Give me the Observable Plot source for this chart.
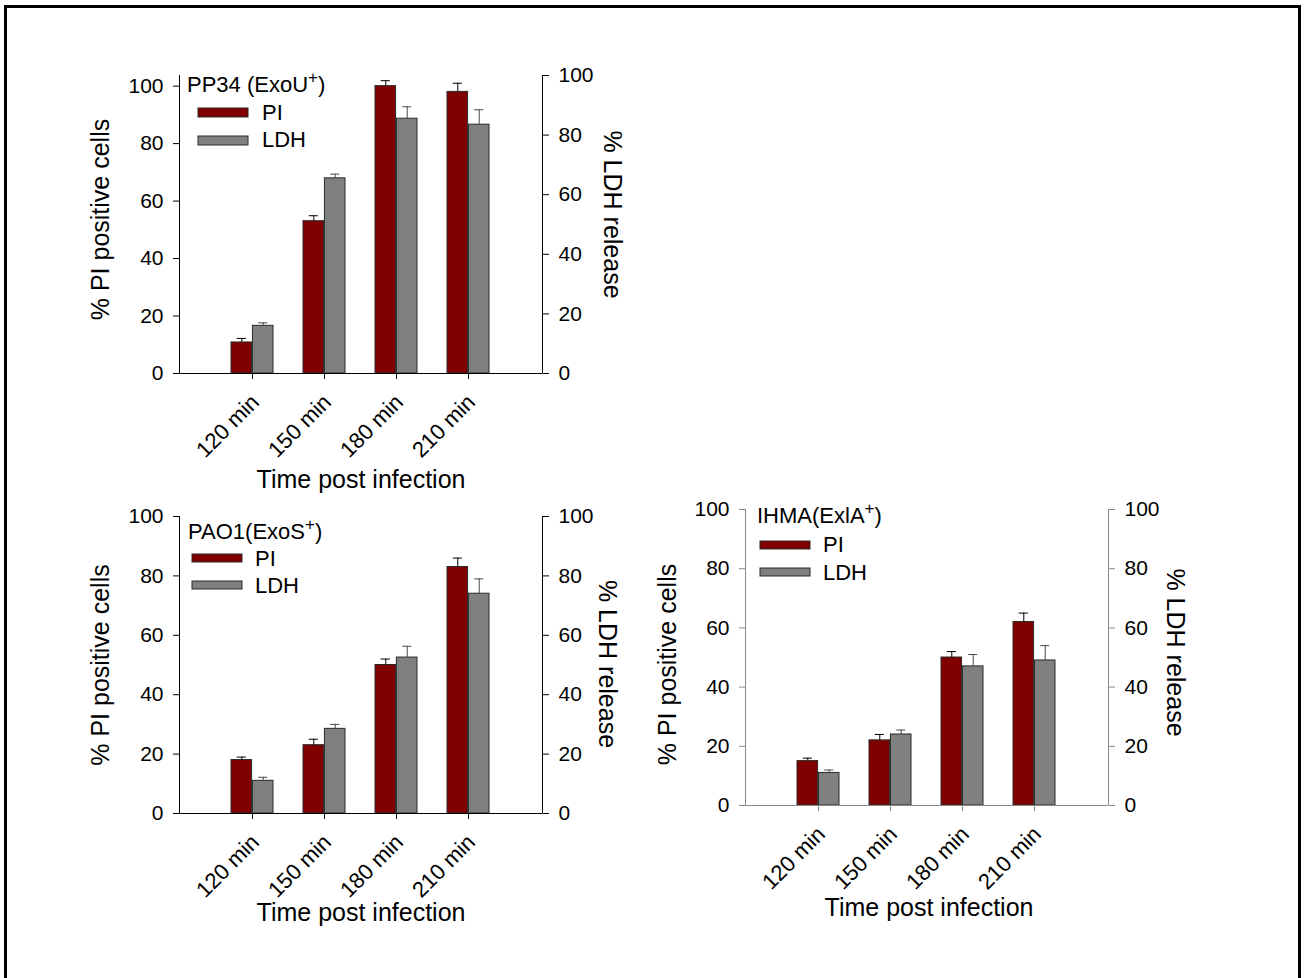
<!DOCTYPE html>
<html><head><meta charset="utf-8">
<script src="https://cdn.jsdelivr.net/npm/d3@7"></script>
<script src="https://cdn.jsdelivr.net/npm/@observablehq/plot@0.6"></script>
<style>
html,body{margin:0;padding:0;background:#fff;}
#page{position:relative;width:1304px;height:978px;overflow:hidden;font-family:"Liberation Sans",Arial,sans-serif;background:#fff;}
#border{position:absolute;left:4px;top:5px;width:1297px;height:1100px;border:3px solid #000;box-sizing:border-box;}
.panel{position:absolute;}
#overlay{position:absolute;left:0;top:0;pointer-events:none;}
</style></head><body><div id="page"><div id="border"></div></div>
<script>
// ---- data ----
const times = ["120 min", "150 min", "180 min", "210 min"];
const yTicks = [0, 20, 40, 60, 80, 100];
const seriesNames = ["PI", "LDH"];

const pp34PI = [10.8, 53, 100, 98];
const pp34PIerr = [1.4, 1.9, 1.9, 3];
const pp34LDH = [16, 65.5, 85.5, 83.5];
const pp34LDHerr = [1, 1.4, 4, 5];

const pao1PI = [18, 23, 50, 83];
const pao1PIerr = [1, 2, 2, 3];
const pao1LDH = [11, 28.5, 52.5, 74];
const pao1LDHerr = [1.2, 1.5, 3.8, 5];

const ihmaPI = [15, 22, 50, 62];
const ihmaPIerr = [1, 2, 2, 3];
const ihmaLDH = [11, 24, 47, 49];
const ihmaLDHerr = [1, 1.5, 4, 5];

const strainTitles = [["PP34 (ExoU", "+", ")"], ["PAO1(ExoS", "+", ")"], ["IHMA(ExlA", "+", ")"]];

// ---- styles ----
const piColor = "#800000", ldhColor = "#808080";
const font = "'Liberation Sans', Arial, sans-serif";
const padIn = 0.41, padOut = 0.705;

function axisLines(color) {
  return (index, scales, values, dims) => {
    const {width, height, marginLeft, marginRight, marginTop, marginBottom} = dims;
    const g = d3.create("svg:g").attr("stroke", color).attr("stroke-width", 1).attr("fill", "none");
    const xl = marginLeft + 0.5, xr = width - marginRight + 0.5, yb = height - marginBottom + 0.5;
    g.append("line").attr("x1", xl).attr("x2", xl).attr("y1", marginTop).attr("y2", yb);
    g.append("line").attr("x1", xr).attr("x2", xr).attr("y1", marginTop).attr("y2", yb);
    return g.node();
  };
}

function panel(cfg) {
  const {left, top, width, height, mL, mR, mT, mB, yMax, factor, pi, piErr, ldh, ldhErr, axisColor, t} = cfg;
  const rows = times.map((time, i) => ({
    time, pi: pi[i], piTop: pi[i] + piErr[i],
    ldh: ldh[i] * factor, ldhTop: (ldh[i] + ldhErr[i]) * factor
  }));
  const plotW = width - mL - mR;
  const step = plotW / (times.length - padIn + 2 * padOut);
  const bw = step * (1 - padIn);
  const half = bw / 2, q = bw / 4, cap = 5;
  const chart = Plot.plot({
    width, height, marginLeft: mL, marginRight: mR, marginTop: mT, marginBottom: mB,
    style: {fontFamily: font, fontSize: "21px", color: "#000", background: "transparent", overflow: "visible"},
    x: {type: "band", domain: times, paddingInner: padIn, paddingOuter: padOut, axis: null},
    y: {domain: [0, yMax], axis: null},
    marks: [
      Plot.barY(rows, {x: "time", y: "pi", fill: piColor, stroke: "#2a2a2a", strokeWidth: 1, insetRight: half}),
      Plot.barY(rows, {x: "time", y: "ldh", fill: ldhColor, stroke: "#2a2a2a", strokeWidth: 1, insetLeft: half}),
      Plot.ruleX(rows, {x: "time", y1: "pi", y2: "piTop", dx: -q, stroke: "#000", strokeWidth: 1}),
      Plot.tickY(rows, {x: "time", y: "piTop", insetLeft: q - cap, insetRight: 3 * q - cap, stroke: "#000", strokeWidth: 1}),
      Plot.ruleX(rows, {x: "time", y1: "ldh", y2: "ldhTop", dx: q, stroke: "#4a4a4a", strokeWidth: 1}),
      Plot.tickY(rows, {x: "time", y: "ldhTop", insetLeft: 3 * q - cap, insetRight: q - cap, stroke: "#4a4a4a", strokeWidth: 1}),
      Plot.ruleY([0], {stroke: axisColor}),
      axisLines(axisColor),
      Plot.axisY(yTicks, {anchor: "left", tickSize: 6, tickPadding: 10, stroke: axisColor, fill: "#000", label: null, fontSize: 21}),
      Plot.axisY(yTicks.map(v => v * factor), {anchor: "right", tickSize: 6, tickPadding: 10, stroke: axisColor, fill: "#000", label: null, fontSize: 21, tickFormat: d => String(Math.round(d / factor))}),
      Plot.axisX({anchor: "bottom", tickSize: 6, fill: "none", stroke: axisColor, label: null}),
      Plot.axisX({anchor: "bottom", tickSize: 0, tickRotate: -45, tickPadding: 25, dx: 3, fill: "#000", label: null, fontSize: 22}),
      Plot.text(["% PI positive cells"], {text: d => d, frameAnchor: "left", textAnchor: "middle", lineAnchor: "middle", rotate: -90, dx: t.lx, dy: t.ly, fontSize: 25}),
      Plot.text(["% LDH release"], {text: d => d, frameAnchor: "right", textAnchor: "middle", lineAnchor: "middle", rotate: 90, dx: t.rx, dy: t.ry, fontSize: 25}),
      Plot.text(["Time post infection"], {text: d => d, frameAnchor: "bottom", textAnchor: "middle", lineAnchor: "middle", dx: t.bx, dy: t.by, fontSize: 25})
    ]
  });
  chart.classList.add("panel");
  chart.style.left = left + "px";
  chart.style.top = top + "px";
  document.getElementById("page").appendChild(chart);
}

panel({left: 0, top: 0, width: 660, height: 500, mL: 179, mR: 118, mT: 75, mB: 127,
  yMax: 103.7, factor: 1.037, pi: pp34PI, piErr: pp34PIerr, ldh: pp34LDH, ldhErr: pp34LDHerr,
  axisColor: "#000", t: {lx: -79, ly: -5, rx: 69, ry: -10, bx: 0, by: 106}});
panel({left: 0, top: 440, width: 660, height: 500, mL: 179, mR: 118, mT: 76, mB: 127,
  yMax: 100, factor: 1, pi: pao1PI, piErr: pao1PIerr, ldh: pao1LDH, ldhErr: pao1LDHerr,
  axisColor: "#000", t: {lx: -79, ly: 0, rx: 64, ry: -1, bx: 0, by: 99}});
panel({left: 600, top: 440, width: 640, height: 500, mL: 145, mR: 132, mT: 69, mB: 135,
  yMax: 100, factor: 1, pi: ihmaPI, piErr: ihmaPIerr, ldh: ihmaLDH, ldhErr: ihmaLDHerr,
  axisColor: "#8a8a8a", t: {lx: -78, ly: 7, rx: 66, ry: -5, bx: 2, by: 102}});

// ---- legends (overlay) ----
const legendLayout = [
  {tx: 187, ty: 92, sx: 198, sy: [108, 136], sh: 9, lx: 262, ly: [120, 147]},
  {tx: 188, ty: 539, sx: 192, sy: [554, 581], sh: 8, lx: 255, ly: [566, 593]},
  {tx: 757, ty: 523, sx: 760, sy: [541, 568], sh: 8, lx: 823, ly: [552, 580]}
];
const svg = d3.select("#page").append("svg").attr("id", "overlay").attr("width", 1304).attr("height", 978)
  .style("font-family", font);
legendLayout.forEach((L, k) => {
  const g = svg.append("g");
  const tt = g.append("text").attr("x", L.tx).attr("y", L.ty).attr("font-size", 22).attr("fill", "#000");
  tt.append("tspan").text(strainTitles[k][0]);
  tt.append("tspan").attr("font-size", 17).attr("dy", -9).text(strainTitles[k][1]);
  tt.append("tspan").attr("dy", 9).text(strainTitles[k][2]);
  seriesNames.forEach((name, j) => {
    g.append("rect").attr("x", L.sx).attr("y", L.sy[j]).attr("width", 50).attr("height", L.sh)
      .attr("fill", j === 0 ? piColor : ldhColor).attr("stroke", "#2a2a2a").attr("stroke-width", 1);
    g.append("text").attr("x", L.lx).attr("y", L.ly[j]).attr("font-size", 22).attr("fill", "#000").text(name);
  });
});
</script>
</body></html>
